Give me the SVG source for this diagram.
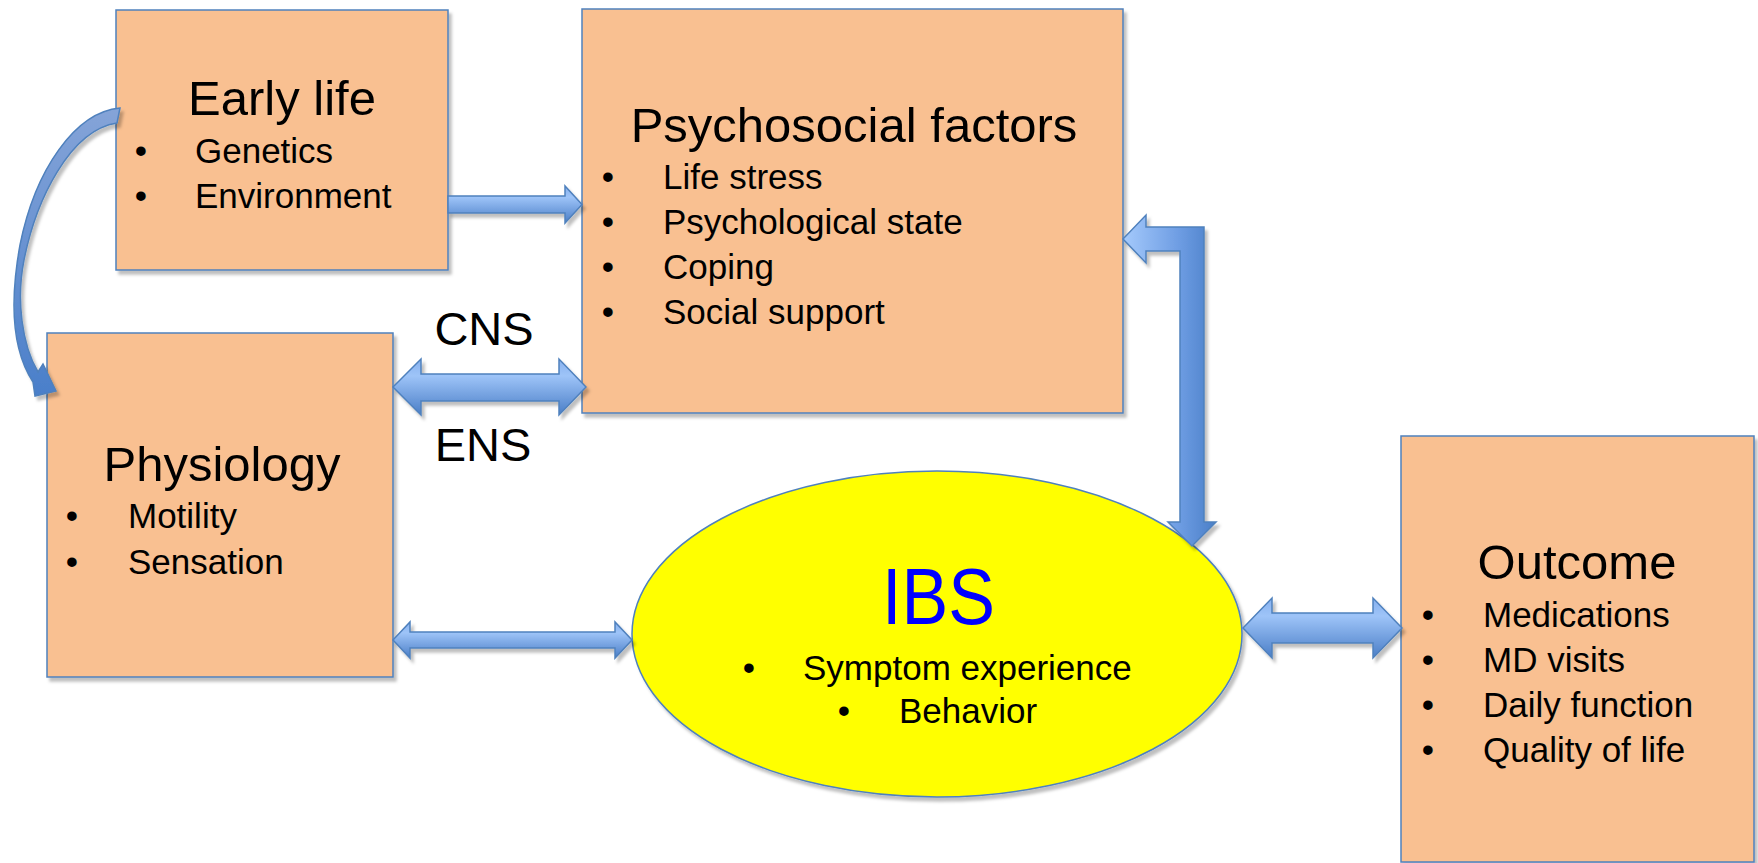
<svg xmlns="http://www.w3.org/2000/svg" width="1758" height="863" viewBox="0 0 1758 863">
  <defs>
    <style>
      .box { fill: #f9c091; stroke: #4f81bd; stroke-width: 1.5; }
      .oval { fill: #ffff00; stroke: #4f81bd; stroke-width: 1.5; }
      .title { font-family: "Liberation Sans", Arial, sans-serif; font-size: 49px; fill: #000; text-anchor: middle; }
      .item { font-family: "Liberation Sans", Arial, sans-serif; font-size: 35px; fill: #000; }
      .dot { font-family: "Liberation Sans", Arial, sans-serif; font-size: 35px; fill: #000; text-anchor: middle; }
      .lbl { font-family: "Liberation Sans", Arial, sans-serif; font-size: 47px; fill: #000; text-anchor: middle; }
      .ibs { font-family: "Liberation Sans", Arial, sans-serif; font-size: 80px; fill: #0000ff; text-anchor: middle; }
      .arrow { stroke: #4f81bd; stroke-width: 1.5; stroke-linejoin: miter; }
    </style>
    <filter id="shadow" x="-10%" y="-10%" width="130%" height="130%">
      <feDropShadow dx="3" dy="4" stdDeviation="1.5" flood-color="#000" flood-opacity="0.25"/>
    </filter>
    <linearGradient id="gradH" x1="0" y1="0" x2="0" y2="1">
      <stop offset="0" stop-color="#86b0ee"/>
      <stop offset="0.3" stop-color="#9ec4f8"/>
      <stop offset="1" stop-color="#4a7ec7"/>
    </linearGradient>
    <linearGradient id="gradL" gradientUnits="userSpaceOnUse" x1="1123" y1="0" x2="1216" y2="0">
      <stop offset="0" stop-color="#a5cafc"/>
      <stop offset="0.6" stop-color="#6e9de3"/>
      <stop offset="1" stop-color="#4a7fc8"/>
    </linearGradient>
    <linearGradient id="gradC" x1="0" y1="0" x2="0" y2="1">
      <stop offset="0" stop-color="#85a4d8"/>
      <stop offset="1" stop-color="#4a7fca"/>
    </linearGradient>
  </defs>

  <rect width="1758" height="863" fill="#ffffff"/>

  <!-- Early life -->
  <g id="early-life">
    <rect class="box" x="116" y="10" width="332" height="260" filter="url(#shadow)"/>
    <text class="title" x="282" y="115">Early life</text>
    <text class="dot" x="141" y="163">•</text>
    <text class="item" x="195" y="163">Genetics</text>
    <text class="dot" x="141" y="208">•</text>
    <text class="item" x="195" y="208">Environment</text>
  </g>

  <!-- Psychosocial factors -->
  <g id="psychosocial">
    <rect class="box" x="582" y="9" width="541" height="404" filter="url(#shadow)"/>
    <text class="title" x="854" y="142">Psychosocial factors</text>
    <text class="dot" x="608" y="189">•</text>
    <text class="item" x="663" y="189">Life stress</text>
    <text class="dot" x="608" y="234">•</text>
    <text class="item" x="663" y="234">Psychological state</text>
    <text class="dot" x="608" y="279">•</text>
    <text class="item" x="663" y="279">Coping</text>
    <text class="dot" x="608" y="324">•</text>
    <text class="item" x="663" y="324">Social support</text>
  </g>

  <!-- Physiology -->
  <g id="physiology">
    <rect class="box" x="47" y="333" width="346" height="344" filter="url(#shadow)"/>
    <text class="title" x="222" y="481">Physiology</text>
    <text class="dot" x="72" y="528">•</text>
    <text class="item" x="128" y="528">Motility</text>
    <text class="dot" x="72" y="574">•</text>
    <text class="item" x="128" y="574">Sensation</text>
  </g>

  <!-- IBS -->
  <g id="ibs">
    <ellipse class="oval" cx="937" cy="634" rx="305" ry="163" filter="url(#shadow)"/>
    <text class="ibs" transform="translate(938.5,624) scale(0.876,1)">IBS</text>
    <text class="dot" x="749" y="680">•</text>
    <text class="item" x="803" y="680">Symptom experience</text>
    <text class="dot" x="844" y="723">•</text>
    <text class="item" x="899" y="723">Behavior</text>
  </g>

  <!-- Outcome -->
  <g id="outcome">
    <rect class="box" x="1401" y="436" width="353" height="426" filter="url(#shadow)"/>
    <text class="title" x="1577" y="579">Outcome</text>
    <text class="dot" x="1428" y="627">•</text>
    <text class="item" x="1483" y="627">Medications</text>
    <text class="dot" x="1428" y="672">•</text>
    <text class="item" x="1483" y="672">MD visits</text>
    <text class="dot" x="1428" y="717">•</text>
    <text class="item" x="1483" y="717">Daily function</text>
    <text class="dot" x="1428" y="762">•</text>
    <text class="item" x="1483" y="762">Quality of life</text>
  </g>

  <!-- Nervous-system labels on the brain-gut link -->
  <g id="cns-ens-labels">
    <text class="lbl" x="484" y="345">CNS</text>
    <text class="lbl" x="483" y="461">ENS</text>
  </g>

  <!-- Connectors -->
  <g id="connectors" filter="url(#shadow)">
    <!-- early life to physiology (curved) -->
    <path class="arrow" fill="url(#gradC)" d="M120,108 C75,112 35,170 20,245 C10,300 12,350 33,382 L35,396 L56,391 L43,364 L38,372 C22,345 16,300 24,260 C36,200 70,130 117,123 Z"/>
    <!-- early life to psychosocial -->
    <path class="arrow" fill="url(#gradH)" d="M448,196 H565 V186 L582,204.5 L565,223 V213 H448 Z"/>
    <!-- physiology <-> psychosocial (CNS / ENS) -->
    <path class="arrow" fill="url(#gradH)" d="M393,387 L421,359 V374 H559 V359 L586,387 L559,415 V401 H421 V415 Z"/>
    <!-- physiology <-> IBS -->
    <path class="arrow" fill="url(#gradH)" d="M393,640 L410,622 V632 H615 V622 L632,640 L615,658 V648 H410 V658 Z"/>
    <!-- IBS <-> outcome -->
    <path class="arrow" fill="url(#gradH)" d="M1243,628 L1272,598 V613 H1373 V598 L1402,628 L1373,658 V643 H1272 V658 Z"/>
    <!-- psychosocial <-> IBS (elbow) -->
    <path class="arrow" fill="url(#gradL)" d="M1123,239 L1146,215 V227 H1204 V522 H1216 L1192,546 L1168,522 H1180 V251 H1146 V263 Z"/>
  </g>
</svg>
